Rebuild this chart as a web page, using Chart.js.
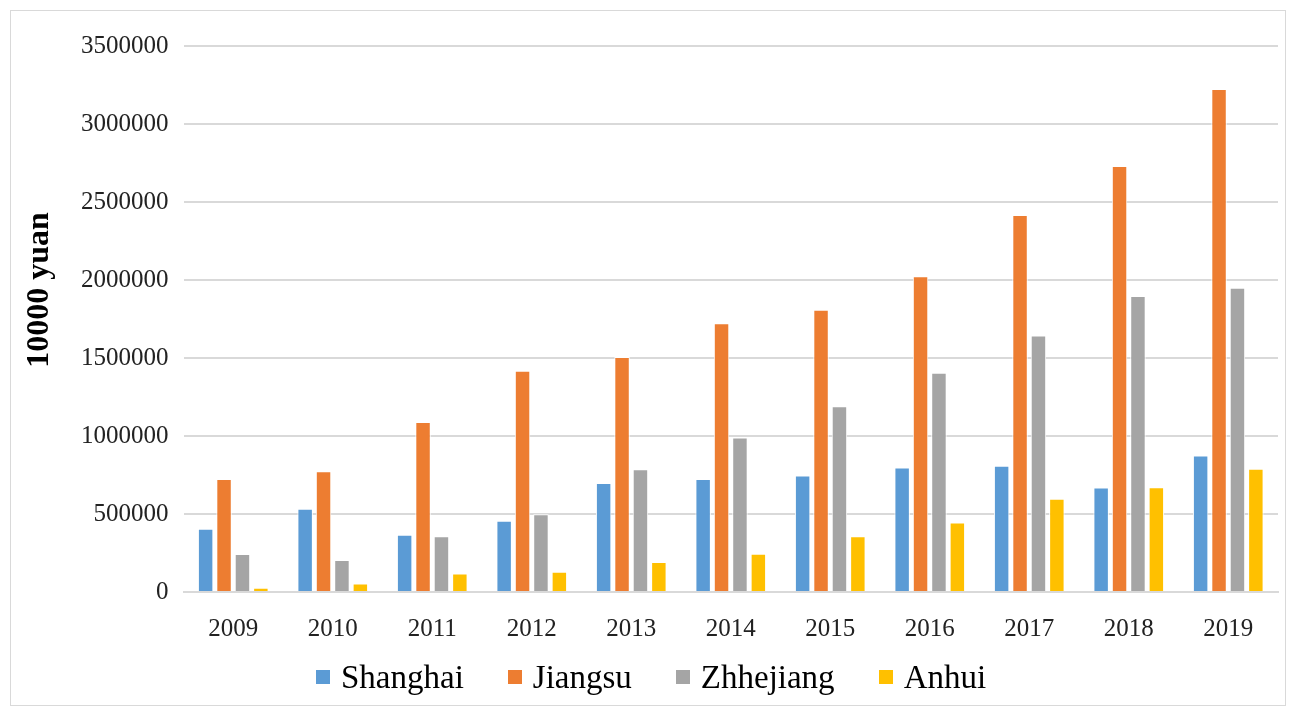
<!DOCTYPE html>
<html>
<head>
<meta charset="utf-8">
<script src="https://cdn.jsdelivr.net/npm/chart.js@4"></script>
<style>
  html, body { margin: 0; padding: 0; background: #fff; }
  #wrap { width: 1296px; height: 716px; position: relative; }
  #legend {
    position: absolute; left: 316px; top: 656px; height: 42px;
    display: flex; align-items: center;
    font-family: 'Liberation Serif', 'Times New Roman', serif; font-size: 33px; color: #000;
  }
  #legend .item { display: flex; align-items: center; margin-right: 44px; }
  #legend .box { width: 14px; height: 14px; margin-right: 11px; }
</style>
</head>
<body>
<div id="wrap">
  <canvas id="chart" width="1296" height="716"></canvas>
  <div id="legend"></div>
</div>
<script>
const years = ["2009", "2010", "2011", "2012", "2013", "2014", "2015", "2016", "2017", "2018", "2019"];
const shanghai = [405000, 534000, 367000, 457000, 698000, 725000, 747000, 798000, 810000, 670000, 875000];
const jiangsu = [724000, 774000, 1090000, 1418000, 1506000, 1722000, 1810000, 2024000, 2416000, 2730000, 3225000];
const zhejiang = [243000, 205000, 358000, 499000, 787000, 990000, 1190000, 1406000, 1645000, 1898000, 1950000];
const anhui = [28000, 55000, 118000, 130000, 192000, 245000, 358000, 446000, 598000, 672000, 790000];
const yTicks = [0, 500000, 1000000, 1500000, 2000000, 2500000, 3000000, 3500000];
const yTitle = "10000 yuan";

const serif = "'Liberation Serif', 'Times New Roman', serif";

// outer border + rotated axis title (placed a bit above plot centre, as in the figure)
const frame = {
  id: "frame",
  beforeDraw(c) {
    const ctx = c.ctx;
    ctx.save();
    ctx.fillStyle = "#fff";
    ctx.fillRect(0, 0, c.width, c.height);
    ctx.strokeStyle = "#d9d9d9";
    ctx.lineWidth = 1;
    ctx.strokeRect(10.5, 10.5, 1275, 695);
    ctx.restore();
  },
  afterDraw(c) {
    const ctx = c.ctx;
    ctx.save();
    ctx.translate(40, 290);
    ctx.rotate(-Math.PI / 2);
    ctx.font = "bold 32px " + serif;
    ctx.fillStyle = "#000";
    ctx.textAlign = "center";
    ctx.textBaseline = "middle";
    ctx.fillText(yTitle, 0, 0);
    ctx.restore();
  }
};

function ds(label, data, color) {
  return {
    label: label,
    data: data,
    backgroundColor: color,
    borderColor: "#ffffff",
    borderWidth: 1,
    categoryPercentage: 0.74,
    barPercentage: 0.84
  };
}

const chart = new Chart(document.getElementById("chart"), {
  type: "bar",
  data: {
    labels: years,
    datasets: [
      ds("Shanghai", shanghai, "#5B9BD5"),
      ds("Jiangsu", jiangsu, "#ED7D31"),
      ds("Zhhejiang", zhejiang, "#A5A5A5"),
      ds("Anhui", anhui, "#FFC000")
    ]
  },
  options: {
    responsive: false,
    animation: false,
    devicePixelRatio: 1,
    layout: { padding: { left: 66, right: 18, top: 46, bottom: 50 } },
    plugins: {
      tooltip: { enabled: false },
      legend: { display: false }
    },
    scales: {
      x: {
        grid: { display: false, drawTicks: false },
        border: { color: "#d9d9d9", width: 2 },
        ticks: { color: "#222", font: { family: serif, size: 25 }, padding: 22 }
      },
      y: {
        min: 0,
        max: 3500000,
        afterBuildTicks(axis) { axis.ticks = yTicks.map(v => ({ value: v })); },
        grid: { color: "#d9d9d9", lineWidth: 2, drawTicks: false },
        border: { display: false },
        ticks: {
          color: "#222",
          font: { family: serif, size: 25 },
          padding: 15,
          callback: v => String(v)
        }
      }
    }
  },
  plugins: [frame]
});

// legend built from the chart's own datasets
const legend = document.getElementById("legend");
chart.data.datasets.forEach(d => {
  const item = document.createElement("div");
  item.className = "item";
  item.innerHTML = `<span class="box" style="background:${d.backgroundColor}"></span><span>${d.label}</span>`;
  legend.appendChild(item);
});
</script>
</body>
</html>
